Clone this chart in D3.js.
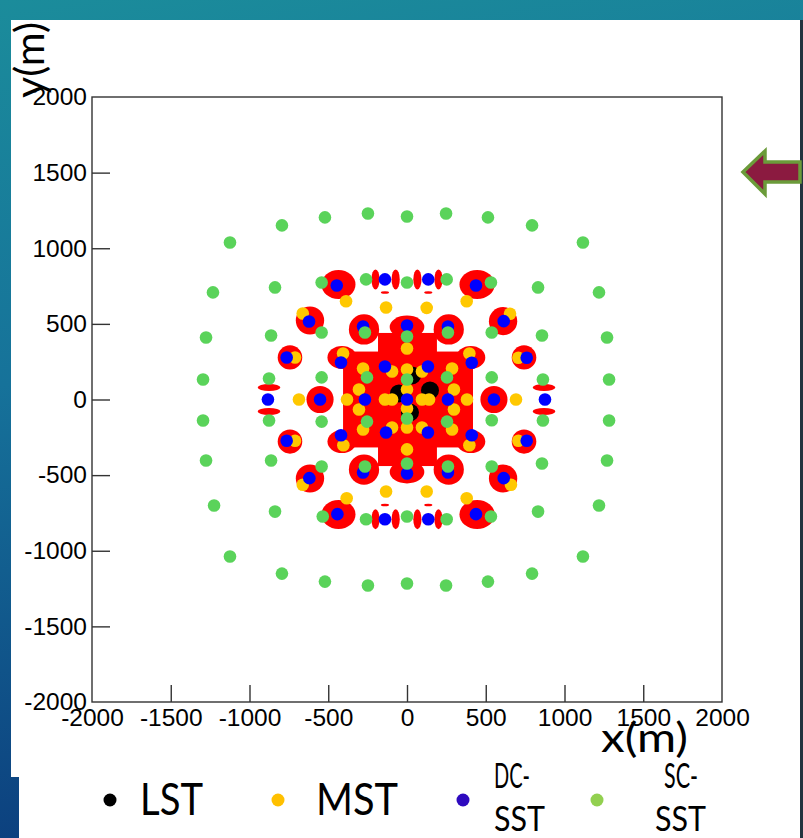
<!DOCTYPE html>
<html><head><meta charset="utf-8">
<script src="https://cdn.jsdelivr.net/npm/d3@7"></script>
<style>html,body{margin:0;padding:0;overflow:hidden;background:#146a8a}</style>
</head><body>
<svg id="c" width="803" height="838"></svg>
<script>
// Telescope array layout, positions in metres
const LST = [[-51,40],[32,159],[146,60],[19,-86]];

const MST = [
  [-387,650],[379,650],[-383,-653],[379,-653],
  [-133,608],[125,606],[-133,-608],[125,-608],
  [-662,569],[654,567],[-662,-564],[660,-564],
  [-711,278],[707,276],[-711,-273],[707,-273],
  [-406,304],[396,304],[-404,-302],[396,-302],
  [-686,0],[692,0],
  [0,337],[0,198],[0,66],[0,-60],[0,-185],[0,-330],
  [-279,205],[286,205],[-279,-198],[286,-198],
  [-95,185],[95,185],[-95,-185],[95,-185],
  [-305,66],[298,66],[-305,-66],[298,-66],
  [-381,0],[381,0],
  [-140,0],[-95,0],[95,0],[140,0]
];

const DC_SST = [
  [-446,754],[438,754],[-442,-758],[438,-758],
  [-140,794],[135,794],[-140,-792],[135,-792],
  [-622,516],[614,518],[-620,-520],[614,-520],
  [-279,483],[260,483],[-279,-483],[260,-483],
  [-764,278],[760,276],[-764,-273],[760,-273],
  [-419,245],[411,243],[-419,-236],[411,-236],
  [-883,0],[876,0],[-552,0],[552,0],
  [0,489],[0,-489],
  [-140,218],[133,218],[-267,0],[260,0],[0,0],[-133,-218],[133,-218]
];

const SC_SST = [
  // outer ring
  [-1124,1038],[-794,1151],[-521,1204],[-248,1230],[0,1210],[248,1230],[514,1204],[794,1151],[1117,1038],
  [-1232,708],[1219,708],[-1276,410],[1270,410],[-1295,132],[1283,132],
  [-1295,-139],[1283,-139],[-1276,-403],[1270,-403],[-1225,-701],[1219,-701],
  [-1124,-1038],[1117,-1038],
  [-794,-1151],[-521,-1204],[-248,-1230],[0,-1217],[248,-1230],[514,-1204],[794,-1151],
  // middle ring
  [-838,741],[832,741],[-863,423],[857,423],[-876,139],[863,132],
  [-876,-139],[863,-139],[-863,-403],[857,-423],[-838,-741],[832,-741],
  // inner groups
  [-542,774],[533,774],[-535,-774],[533,-774],
  [-260,794],[252,794],[-260,-792],[252,-792],[0,774],[0,-774],
  [-542,443],[538,443],[-542,-443],[538,-443],
  [-267,443],[260,443],[-267,-443],[260,-443],
  [-542,146],[538,146],[-542,-146],[538,-137],
  [-254,146],[254,146],[0,132],[0,-126],[-254,-146],[254,-146],[0,417],[0,-423]
];

// Red footprint areas: ellipses [x, y, rx, ry] and blocks [x0, y0, x1, y1]
const footprintEllipses = [
  [-435,760,108,96],[445,760,112,96],[-435,-760,108,96],[445,-760,112,96],
  [-200,794,26,66],[-72,794,26,66],[66,794,26,66],[200,794,26,66],
  [-200,-792,26,66],[-72,-792,26,66],[66,-792,26,66],[200,-792,26,66],
  [-140,708,26,8],[135,708,26,8],[-140,-697,26,8],[135,-697,26,8],
  [-616,522,90,93],[610,518,90,93],[-616,-522,90,93],[610,-522,90,93],
  [-273,463,96,100],[265,463,96,100],[-273,-463,96,100],[265,-463,96,100],
  [-743,278,78,80],[743,278,78,80],[-743,-278,78,80],[743,-278,78,80],
  [-413,278,92,76],[405,278,92,76],[-413,-278,92,76],[405,-278,92,76],
  [-552,0,86,90],[552,0,86,90],
  [-876,79,72,23],[-876,-79,72,23],[870,79,72,23],[870,-79,72,23],
  [0,480,110,75],[0,-480,110,75]
];
const footprintBlocks = [
  [-406,-317,419,317],
  [-184,-440,190,440]
];

const xTicks = [-2000,-1500,-1000,-500,0,500,1000,1500,2000];
const yTicks = [-2000,-1500,-1000,-500,0,500,1000,1500,2000];

const legendItems = [
  {label:["LST"], color:"#000000"},
  {label:["MST"], color:"#FFC000"},
  {label:["DC-","SST"], color:"#2E0ABF"},
  {label:["SC-","SST"], color:"#92D050"}
];

const svg = d3.select("#c");
const defs = svg.append("defs");
const bg = defs.append("linearGradient").attr("id","bg").attr("x1",0).attr("y1",0).attr("x2",0.15).attr("y2",1);
bg.append("stop").attr("offset","0%").attr("stop-color","#1b8c9b");
bg.append("stop").attr("offset","45%").attr("stop-color","#16729a");
bg.append("stop").attr("offset","100%").attr("stop-color","#0c3f7e");

svg.append("rect").attr("width",803).attr("height",838).attr("fill","url(#bg)");
svg.append("rect").attr("x",800).attr("y",20).attr("width",3).attr("height",818).attr("fill","#22343f");
svg.append("rect").attr("x",11).attr("y",20).attr("width",789).attr("height",757).attr("fill","#ffffff");
svg.append("rect").attr("x",19).attr("y",776).attr("width",781).attr("height",62).attr("fill","#ffffff");

const x = d3.scaleLinear().domain([-2000,2000]).range([92,722]);
const y = d3.scaleLinear().domain([-2000,2000]).range([702,97]);
const rx = v => x(v) - x(0);
const ry = v => y(0) - y(v);

const plot = svg.append("g");

// footprints
plot.selectAll("rect.fp").data(footprintBlocks).join("rect").attr("class","fp")
  .attr("x",d=>x(d[0])).attr("y",d=>y(d[3]))
  .attr("width",d=>x(d[2])-x(d[0])).attr("height",d=>y(d[1])-y(d[3]))
  .attr("fill","#ff0000");
plot.selectAll("ellipse.fp").data(footprintEllipses).join("ellipse").attr("class","fp")
  .attr("cx",d=>x(d[0])).attr("cy",d=>y(d[1]))
  .attr("rx",d=>rx(d[2])).attr("ry",d=>ry(d[3]))
  .attr("fill","#ff0000");

function dots(data, color, r){
  plot.append("g").selectAll("circle").data(data).join("circle")
    .attr("cx",d=>x(d[0])).attr("cy",d=>y(d[1])).attr("r",r).attr("fill",color);
}
dots(LST,"#000000",9);
dots(MST,"#FFC800",6.3);
dots(DC_SST,"#0000FF",6.3);
dots(SC_SST,"#5AD35A",6.3);

// frame and axes
svg.append("rect").attr("x",92).attr("y",97).attr("width",630).attr("height",605)
  .attr("fill","none").attr("stroke","#333").attr("stroke-width",1.4);

const axFont = "'Liberation Sans', Arial, sans-serif";
const fmt = d => String(d);
const gx = svg.append("g").attr("transform","translate(0,702)")
  .call(d3.axisBottom(x).tickValues(xTicks).tickFormat(fmt).tickSize(-17).tickPadding(7).tickSizeOuter(0));
const gy = svg.append("g").attr("transform","translate(92,0)")
  .call(d3.axisLeft(y).tickValues(yTicks).tickFormat(fmt).tickSize(-18).tickPadding(5).tickSizeOuter(0));
[gx,gy].forEach(g=>{
  g.select(".domain").remove();
  g.selectAll(".tick line").attr("stroke","#333").attr("stroke-width",1.4);
  g.selectAll(".tick text").attr("font-family",axFont).attr("font-size",24.5).attr("fill","#000");
});
gx.selectAll(".tick").filter(d=>d===-2000||d===2000).select("line").remove();
gy.selectAll(".tick").filter(d=>d===-2000||d===2000).select("line").remove();

const slideFont = "Lato, 'Open Sans', sans-serif";
svg.append("text").attr("transform","translate(44,98) rotate(-90)")
  .attr("font-family",slideFont).attr("font-size",40).attr("textLength",76).attr("lengthAdjust","spacingAndGlyphs")
  .text("y(m)");
svg.append("text").attr("x",601).attr("y",752)
  .attr("font-family",slideFont).attr("font-size",40).attr("textLength",87).attr("lengthAdjust","spacingAndGlyphs")
  .text("x(m)");

// arrow marker on the right edge
svg.append("path").attr("d","M743,172 L765,151 L765,162 L800,162 L800,182 L765,182 L765,194 Z")
  .attr("fill","#8B1A40").attr("stroke","#6B9B3A").attr("stroke-width",3.5).attr("stroke-linejoin","miter");

// legend
const legX = [110,278,463,597];
const txtX = [140,316,494,655];
const lg = svg.append("g");
legendItems.forEach((it,i)=>{
  lg.append("circle").attr("cx",legX[i]).attr("cy",800).attr("r",6.5).attr("fill",it.color);
  if(it.label.length===1){
    lg.append("text").attr("x",txtX[i]).attr("y",815).attr("font-family",slideFont).attr("font-size",44)
      .attr("textLength", i===0?63:82).attr("lengthAdjust","spacingAndGlyphs").text(it.label[0]);
  } else {
    lg.append("text").attr("x",i===2?494:664).attr("y",788).attr("font-family",slideFont).attr("font-size",34)
      .attr("textLength",i===2?36:34).attr("lengthAdjust","spacingAndGlyphs").text(it.label[0]);
    lg.append("text").attr("x",txtX[i]).attr("y",831).attr("font-family",slideFont).attr("font-size",34)
      .attr("textLength",51).attr("lengthAdjust","spacingAndGlyphs").text(it.label[1]);
  }
});
</script></body></html>
